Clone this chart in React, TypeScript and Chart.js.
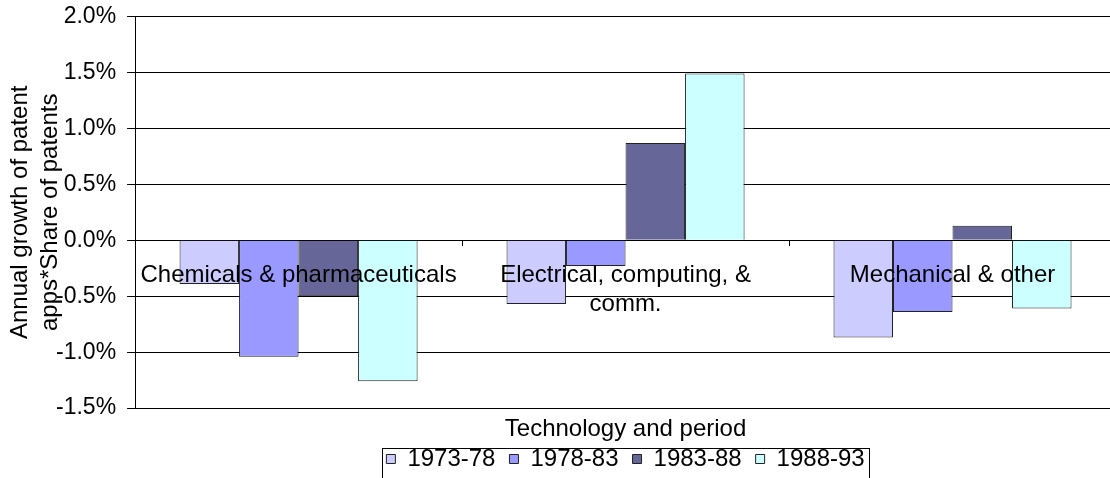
import React, { useEffect, useRef } from 'react';
import { Chart, registerables } from 'chart.js';

Chart.register(...registerables);

const categories: (string | string[])[] = [
  'Chemicals & pharmaceuticals',
  ['Electrical, computing, &', 'comm.'],
  'Mechanical & other',
];
const periods = ['1973-78', '1978-83', '1983-88', '1988-93'];
const values1973_78 = [-0.39, -0.57, -0.87];
const values1978_83 = [-1.04, -0.23, -0.64];
const values1983_88 = [-0.5, 0.87, 0.13];
const values1988_93 = [-1.26, 1.49, -0.61];
const periodColors = ['#CCCCFF', '#9999FF', '#666699', '#CCFFFF'];
const yMin = -1.5;
const yMax = 2.0;
const yStep = 0.5;
const xTitle = 'Technology and period';
const yTitle = ['Annual growth of patent', 'apps*Share of patents'];

const FONT = '"Liberation Sans", Arial, sans-serif';

const legendBorder = {
  id: 'legendBorder',
  afterDraw(chart: any) {
    const lg = chart.legend;
    if (!lg || !lg.legendHitBoxes || !lg.legendHitBoxes.length) return;
    const boxes = lg.legendHitBoxes;
    const first = boxes[0];
    const last = boxes[boxes.length - 1];
    const left = Math.round(first.left - 4) + 0.5;
    const right = Math.round(last.left + last.width + 4) + 0.5;
    const top = Math.round(first.top + first.height / 2 - 11.5) + 0.5;
    const ctx = chart.ctx;
    ctx.save();
    ctx.strokeStyle = '#000';
    ctx.lineWidth = 1;
    ctx.strokeRect(left, top, right - left, 80);
    ctx.restore();
  },
};

export default function App() {
  const ref = useRef<HTMLCanvasElement | null>(null);
  useEffect(() => {
    if (!ref.current) return;
    Chart.defaults.font.family = FONT;
    Chart.defaults.color = '#000';
    const series = [values1973_78, values1978_83, values1983_88, values1988_93];
    const chart = new Chart(ref.current, {
      type: 'bar',
      data: {
        labels: categories,
        datasets: periods.map((p, i) => ({
          label: p,
          data: series[i],
          backgroundColor: periodColors[i],
          borderColor: '#222',
          borderWidth: 1,
          categoryPercentage: 0.728,
          barPercentage: 1,
        })),
      },
      options: {
        animation: false,
        responsive: false,
        devicePixelRatio: 1,
        layout: { padding: { top: 16.5, left: 0, right: 0, bottom: 0 } },
        plugins: {
          title: { display: false },
          tooltip: { enabled: false },
          legend: {
            position: 'bottom',
            fullSize: false,
            labels: {
              boxWidth: 9,
              boxHeight: 9,
              padding: 14,
              color: '#000',
              font: { size: 24, family: FONT },
            },
          },
        },
        scales: {
          x: {
            type: 'category',
            position: 'bottom',
            grid: { display: false, drawTicks: false },
            border: { display: false },
            ticks: { display: false },
            title: {
              display: true,
              text: xTitle,
              color: '#000',
              font: { size: 24, family: FONT, lineHeight: 1.2 },
              padding: { top: 6.5, bottom: -10.4 },
            },
          },
          x2: {
            type: 'category',
            axis: 'x',
            position: { y: 0 },
            offset: true,
            grid: {
              display: true,
              drawOnChartArea: false,
              drawTicks: true,
              tickLength: 6,
              color: '#000',
              offset: true,
              z: 1,
            },
            border: { display: false, z: 1 },
            ticks: {
              color: '#000',
              font: { size: 24, family: FONT, lineHeight: 1.2 },
              padding: 15,
              maxRotation: 0,
              minRotation: 0,
              autoSkip: false,
              z: 2,
            },
          },
          y: {
            min: yMin,
            max: yMax,
            ticks: {
              stepSize: yStep,
              color: '#000',
              font: { size: 23, family: FONT, lineHeight: 0.4 },
              padding: 11,
              callback: (v: any) => Number(v).toFixed(1) + '%',
            },
            grid: { color: '#000', lineWidth: 1, tickLength: 8 },
            border: { display: true, color: '#000' },
            title: {
              display: true,
              text: yTitle,
              color: '#000',
              font: { size: 24, family: FONT, lineHeight: 1.25 },
              padding: { top: 5, bottom: -20 },
            },
          },
        },
      } as any,
      plugins: [legendBorder],
    });
    return () => chart.destroy();
  }, []);
  return (
    <div style={{ position: 'fixed', left: 0, top: 0, width: '1110px', height: '478px', overflow: 'hidden', background: '#fff' }}>
      <canvas ref={ref} width={1116} height={481} />
    </div>
  );
}
